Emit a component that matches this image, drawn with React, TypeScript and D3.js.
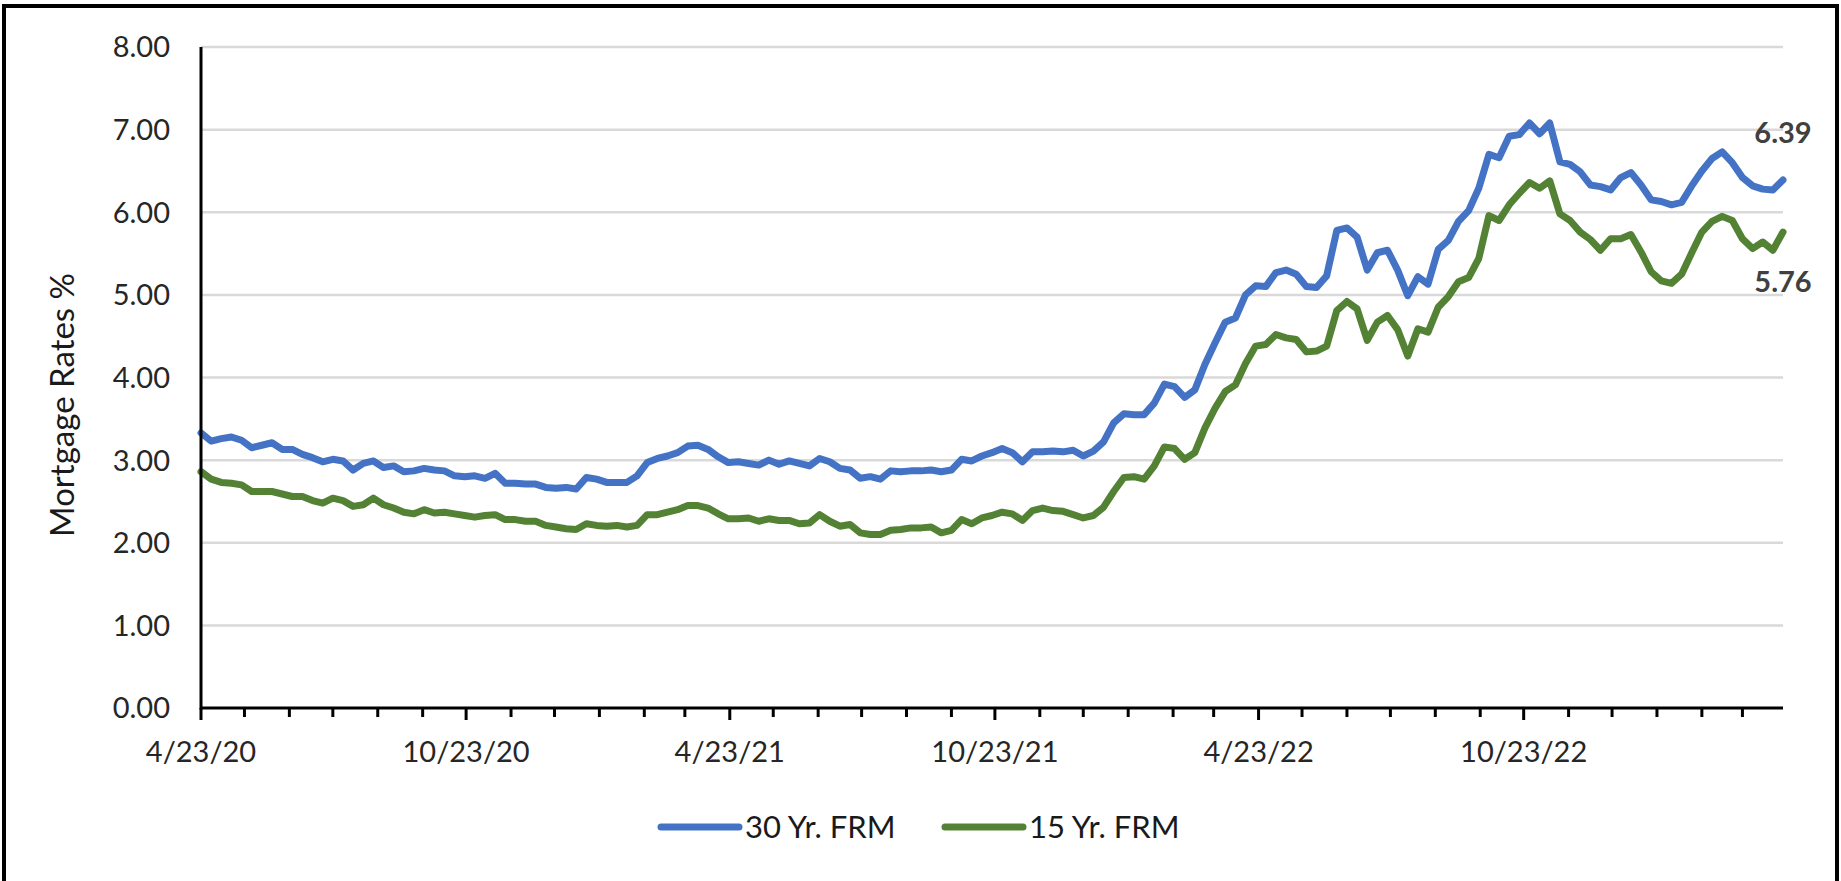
import React from 'react';
import * as d3 from 'd3';

// Freddie Mac PMMS weekly averages, 4/23/20 .. 4/20/23
const startDate = new Date(2020, 3, 23);

const rate30: number[] = [
    3.33, 3.23, 3.26, 3.28, 3.24, 3.15, 3.18, 3.21, 3.13, 3.13,
    3.07, 3.03, 2.98, 3.01, 2.99, 2.88, 2.96, 2.99, 2.91, 2.93,
    2.86, 2.87, 2.90, 2.88, 2.87, 2.81, 2.80, 2.81, 2.78, 2.84,
    2.72, 2.72, 2.71, 2.71, 2.67, 2.66, 2.67, 2.65, 2.79, 2.77,
    2.73, 2.73, 2.73, 2.81, 2.97, 3.02, 3.05, 3.09, 3.17, 3.18,
    3.13, 3.04, 2.97, 2.98, 2.96, 2.94, 3.00, 2.95, 2.99, 2.96,
    2.93, 3.02, 2.98, 2.90, 2.88, 2.78, 2.80, 2.77, 2.87, 2.86,
    2.87, 2.87, 2.88, 2.86, 2.88, 3.01, 2.99, 3.05, 3.09, 3.14,
    3.09, 2.98, 3.10, 3.10, 3.11, 3.10, 3.12, 3.05, 3.11, 3.22,
    3.45, 3.56, 3.55, 3.55, 3.69, 3.92, 3.89, 3.76, 3.85, 4.16,
    4.42, 4.67, 4.72, 5.00, 5.11, 5.10, 5.27, 5.30, 5.25, 5.10,
    5.09, 5.23, 5.78, 5.81, 5.70, 5.30, 5.51, 5.54, 5.30, 4.99,
    5.22, 5.13, 5.55, 5.66, 5.89, 6.02, 6.29, 6.70, 6.66, 6.92,
    6.94, 7.08, 6.95, 7.08, 6.61, 6.58, 6.49, 6.33, 6.31, 6.27,
    6.42, 6.48, 6.33, 6.15, 6.13, 6.09, 6.12, 6.32, 6.50, 6.65,
    6.73, 6.60, 6.42, 6.32, 6.28, 6.27, 6.39,
];

const rate15: number[] = [
    2.86, 2.77, 2.73, 2.72, 2.70, 2.62, 2.62, 2.62, 2.59, 2.56,
    2.56, 2.51, 2.48, 2.54, 2.51, 2.44, 2.46, 2.54, 2.46, 2.42,
    2.37, 2.35, 2.40, 2.36, 2.37, 2.35, 2.33, 2.31, 2.33, 2.34,
    2.28, 2.28, 2.26, 2.26, 2.21, 2.19, 2.17, 2.16, 2.23, 2.21,
    2.20, 2.21, 2.19, 2.21, 2.34, 2.34, 2.37, 2.40, 2.45, 2.45,
    2.42, 2.35, 2.29, 2.29, 2.30, 2.26, 2.29, 2.27, 2.27, 2.23,
    2.24, 2.34, 2.26, 2.20, 2.22, 2.12, 2.10, 2.10, 2.15, 2.16,
    2.18, 2.18, 2.19, 2.12, 2.15, 2.28, 2.23, 2.30, 2.33, 2.37,
    2.35, 2.27, 2.39, 2.42, 2.39, 2.38, 2.34, 2.30, 2.33, 2.43,
    2.62, 2.79, 2.80, 2.77, 2.93, 3.16, 3.14, 3.01, 3.09, 3.39,
    3.63, 3.83, 3.91, 4.17, 4.38, 4.40, 4.52, 4.48, 4.46, 4.31,
    4.32, 4.38, 4.81, 4.92, 4.83, 4.45, 4.67, 4.75, 4.58, 4.26,
    4.59, 4.55, 4.85, 4.98, 5.16, 5.21, 5.44, 5.96, 5.90, 6.09,
    6.23, 6.36, 6.29, 6.38, 5.98, 5.90, 5.76, 5.67, 5.54, 5.68,
    5.68, 5.73, 5.52, 5.28, 5.17, 5.14, 5.25, 5.51, 5.76, 5.89,
    5.95, 5.90, 5.68, 5.56, 5.64, 5.54, 5.76,
];

const yTicks: number[] = [0, 1, 2, 3, 4, 5, 6, 7, 8];
const seriesNames: string[] = ['30 Yr. FRM', '15 Yr. FRM'];
const seriesColors: string[] = ['#4472C4', '#548235'];

const W = 1841;
const H = 881;
const FONT = 'Lato, "Open Sans", sans-serif';

function App() {
    const dates = rate30.map((_, i) => d3.timeDay.offset(startDate, 7 * i));
    const lastDate = dates[dates.length - 1];

    const x = d3.scaleTime().domain([startDate, lastDate]).range([201, 1783]);
    const y = d3.scaleLinear().domain([0, 8]).range([708, 47]);

    // monthly ticks on the 23rd, labels every 6 months
    const months = d3.range(0, 36).map(i => new Date(2020, 3 + i, 23));
    const fmtDate = d3.timeFormat('%-m/%-d/%y');
    const fmtY = d3.format('.2f');

    const line = d3.line<number>()
        .x((_, i) => x(dates[i]))
        .y(d => y(d));

    const series = [rate30, rate15];
    const last30 = rate30[rate30.length - 1];
    const last15 = rate15[rate15.length - 1];

    return (
        <svg width={W} height={H} style={{ position: 'absolute', left: 0, top: 0 }} fontFamily={FONT}>
            <rect x={0} y={0} width={W} height={H} fill="#fff" />
            <rect x={4} y={6} width={1833} height={H + 20} fill="none" stroke="#000" strokeWidth={4} />

            {yTicks.slice(1).map(t => (
                <line key={t} x1={x.range()[0]} x2={x.range()[1]} y1={y(t)} y2={y(t)}
                    stroke="#d9d9d9" strokeWidth={2.5} />
            ))}

            {yTicks.map(t => (
                <text key={t} x={170} y={y(t)} dy="0.36em" textAnchor="end"
                    fontSize={29} fill="#262626">{fmtY(t)}</text>
            ))}

            <text transform={`translate(74,405) rotate(-90)`} textAnchor="middle"
                fontSize={33} fill="#1a1a1a">Mortgage Rates %</text>

            {series.map((s, k) => (
                <path key={k} d={line(s) ?? ''} fill="none" stroke={seriesColors[k]}
                    strokeWidth={7} strokeLinejoin="round" strokeLinecap="round" />
            ))}

            <line x1={x.range()[0]} x2={x.range()[0]} y1={y(8)} y2={y(0) + 1.5} stroke="#000" strokeWidth={3} />
            <line x1={x.range()[0]} x2={x.range()[1]} y1={y(0)} y2={y(0)} stroke="#000" strokeWidth={3} />

            {months.map((m, i) => (
                <line key={i} x1={x(m)} x2={x(m)} y1={y(0)} y2={y(0) + (i % 6 === 0 ? 12 : 9)}
                    stroke="#000" strokeWidth={3} />
            ))}

            {months.filter((_, i) => i % 6 === 0).map((m, i) => (
                <text key={i} x={x(m)} y={762} textAnchor="middle" fontSize={29} fill="#262626">
                    {fmtDate(m)}
                </text>
            ))}

            <text x={x(lastDate)} y={y(last30) - 37} textAnchor="middle" fontSize={29}
                fontWeight="bold" fill="#404040">{last30.toFixed(2)}</text>
            <text x={x(lastDate)} y={y(last15) + 60} textAnchor="middle" fontSize={29}
                fontWeight="bold" fill="#404040">{last15.toFixed(2)}</text>

            {seriesNames.map((name, k) => {
                const lx = k === 0 ? 661 : 945;
                return (
                    <g key={name}>
                        <line x1={lx} x2={lx + 78} y1={827} y2={827} stroke={seriesColors[k]}
                            strokeWidth={7} strokeLinecap="round" />
                        <text x={lx + 84} y={838} fontSize={31} fill="#1a1a1a">{name}</text>
                    </g>
                );
            })}
        </svg>
    );
}

export default App;
